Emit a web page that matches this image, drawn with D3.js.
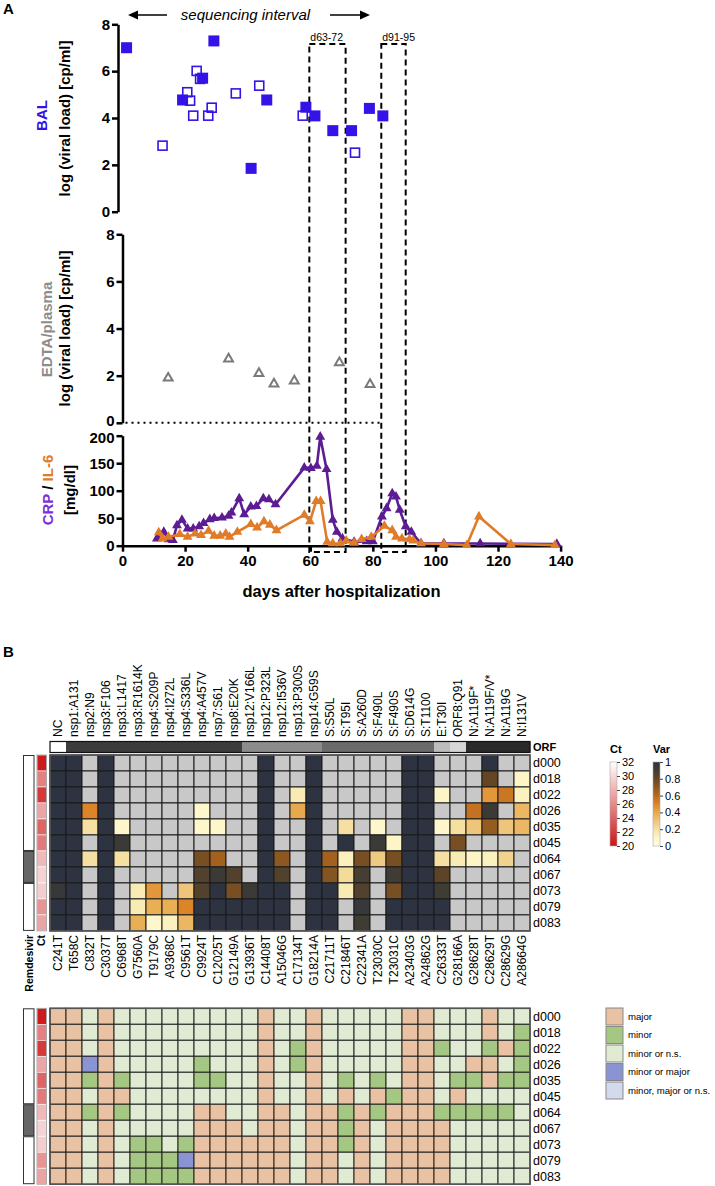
<!DOCTYPE html>
<html><head><meta charset="utf-8">
<script src="https://cdn.jsdelivr.net/npm/d3@7"></script>
<style>body{margin:0;background:#fff}svg{display:block;font-family:Arial,"Liberation Sans",sans-serif}</style>
</head><body>
<svg id="c" width="715" height="1186"></svg>
<script>
// ---------------- DATA (panel A) ----------------
const balFilledDay = [1.3,19.2,25.6,29.2,41.1,46.1,58.6,61.5,67.2,73.2,78.9,83.2];
const balFilledLog = [7.0,4.77,5.7,7.29,1.85,4.77,4.46,4.09,3.46,3.46,4.41,4.09];
const balOpenDay = [12.8,20.7,21.6,22.6,23.7,24.8,27.4,28.5,36.2,43.7,57.6,74.3];
const balOpenLog = [2.82,5.1,4.74,4.1,6.01,5.67,4.1,4.44,5.05,5.38,4.1,2.52];
const plasmaDay = [14.6,33.9,43.6,48.4,54.9,69.3,79.1];
const plasmaLog = [1.9,2.71,2.1,1.65,1.78,2.55,1.63];
const crpDay = [11,13.2,14.7,16.1,17.4,19,20.8,22.6,24.5,25.9,27.9,29.3,31.8,33.9,34.8,37.3,38.9,41,42.8,45,46.8,48.9,58.1,60.2,62.1,63.2,65.2,67.2,68.5,70.3,74,78,80,82.9,84.4,86.2,87.4,88.6,90.5,92.3,95.4,102.7,114.3,138.8];
const crpVal = [13,25,11.5,10,37,47,31,31,35,41,48,50,51,54,60,86,57,71,72,86,84,75,142,141,145,198,139,47,25,13,7,8,8,53,68,95,89,65,35,25,4,4,4,3];
const il6Day = [11.6,12.8,14.7,18.3,20.8,23.2,25.1,27.5,29.3,31.2,33,34.2,36.7,41,43,45.2,47.1,49.2,58.1,59.9,61.9,63.3,65.4,67.2,69.7,71.5,74,76.4,79.5,83.7,86.2,87.4,89.3,91.7,92.9,95.4,102.7,110,113.9,124.1,138.2];
const il6Val = [24,13,16,21,16,22,19,27,18,18,22,16,25,39,33,44,38,28,56,44,81,81,7,4,4,9,5,12,16,36,28,16,13,12,9,4,3,1,53,3,1];
const boxStart = [59.7,82.7];
const boxEnd = [71.3,90.5];
const boxLabel = ["d63-72","d91-95"];
const viralTicks = [0,2,4,6,8];
const crpTicks = [0,50,100,150,200];
const dayTicks = [0,20,40,60,80,100,120,140];

// ---------------- DATA (panel B) ----------------
const aaLabels = ["NC","nsp1:A131","nsp2:N9","nsp3:F106","nsp3:L1417","nsp3:R1614K","nsp4:S209P","nsp4:I272L","nsp4:S336L","nsp4:A457V","nsp7:S61","nsp8:E20K","nsp12:V166L","nsp12:P323L","nsp12:I536V","nsp13:P300S","nsp14:G59S","S:S50L","S:T95I","S:A260D","S:F490L","S:F490S","S:D614G","S:T1100","E:T30I","ORF8:Q91","N:A119F*","N:A119F/V*","N:A119G","N:I131V"];
const ntLabels = ["C241T","T658C","C832T","C3037T","C6968T","G7560A","T9179C","A9368C","C9561T","C9924T","C12025T","G12149A","G13936T","C14408T","A15046G","C17134T","G18214A","C21711T","C21846T","C22341A","T23030C","T23031C","A23403G","A24862G","C26333T","G28166A","G28628T","C28629T","C28629G","A28664G"];
const orfGroup = ["NC","ORF1a","ORF1a","ORF1a","ORF1a","ORF1a","ORF1a","ORF1a","ORF1a","ORF1a","ORF1a","ORF1a","ORF1b","ORF1b","ORF1b","ORF1b","ORF1b","S","S","S","S","S","S","S","E","ORF8","N","N","N","N"];
const samples = ["d000","d018","d022","d026","d035","d045","d064","d067","d073","d079","d083"];
const ctValues = [20.3,25.5,21.9,27.4,24.1,25.2,28.4,29.7,29.5,26.5,27.3];
const remdesivir = [0,0,0,0,0,0,1,1,0,0,0];
const _ = null;
const varFreq = [
 [1,1,_,1,_,_,_,_,_,_,_,_,_,1,_,_,1,_,_,_,_,_,1,1,_,_,_,1,_,_],
 [1,1,_,1,_,_,_,_,_,_,_,_,_,1,_,_,1,_,_,_,_,_,1,1,_,_,_,0.8,_,0.1],
 [1,1,_,1,_,_,_,_,_,_,_,_,_,1,_,0.15,1,_,_,_,_,_,1,1,0.1,_,_,0.45,0.55,0.12],
 [1,1,0.5,1,_,_,_,_,_,0.08,_,_,_,1,_,0.4,1,_,_,_,_,_,1,1,_,_,0.57,0.92,_,0.35],
 [1,1,0.2,1,0.08,_,_,_,_,0.08,0.08,_,_,1,_,_,1,_,0.2,_,0.08,_,1,1,0.08,0.2,0.3,0.68,0.3,0.35],
 [1,1,_,1,0.92,_,_,_,_,_,_,_,_,1,_,_,1,_,1,_,0.92,0.1,1,1,_,0.75,_,_,_,_],
 [1,1,0.2,1,0.2,_,_,_,_,0.75,0.65,_,_,1,0.7,_,1,0.65,0.12,0.75,0.28,0.75,1,1,0.2,0.15,0.1,0.12,0.25,_],
 [1,1,_,1,_,_,_,_,_,0.85,0.92,0.85,_,1,0.85,_,1,0.72,0.22,0.88,_,0.9,1,1,0.82,_,_,_,_,_],
 [0.95,1,_,1,_,0.15,0.45,_,0.3,0.85,1,0.75,0.92,1,1,_,1,1,0.15,0.85,_,0.75,1,1,0.9,_,_,_,_,_],
 [1,1,_,1,_,0.15,0.38,0.38,0.5,1,1,1,1,1,1,_,1,1,_,0.95,_,1,1,1,1,_,_,_,_,_],
 [1,1,_,1,_,0.38,0.08,0.12,0.35,1,1,1,1,1,1,_,1,1,_,0.9,_,1,1,1,1,_,_,_,_,_]
];
// M = major, m = minor, n = minor or n.s., b = minor or major
const callRows = [
 "MMnMnnnnnnnnnMnnMnnnnnMMnnnMnn",
 "MMnMnnnnnnnnnMnnMnnnnnMMnnnMnm",
 "MMnMnnnnnnnnnMnmMnnnnnMMmnnmMm",
 "MMbMnnnnnmnnnMnmMnnnnnMMnnMMnm",
 "MMmMmnnnnmmnnMnnMnmnmnMMnmmMmm",
 "MMnMMnnnnnnnnMnnMnMnMmMMnMnnnn",
 "MMmMmnnnnMMnnMMnMMmMmMMMmmmmmn",
 "MMnMnnnnnMMMnMMnMMmMnMMMMnnnnn",
 "MMnMnmmnmMMMMMMnMMmMnMMMMnnnnn",
 "MMnMnmmmbMMMMMMnMMnMnMMMMnnnnn",
 "MMnMnmmmmMMMMMMnMMnMnMMMMnnnnn"
];
const callCodes = ["M","m","n","b","l"];
const callNames = ["major","minor","minor or n.s.","minor or major","minor, major or n.s."];
const ctTicks = [20,22,24,26,28,30,32];
const varTicks = [0,0.2,0.4,0.6,0.8,1];

// ---------------- STYLES ----------------
const FONT = "Arial, 'Liberation Sans', sans-serif";
const BLUE = "#3313e8", GREY = "#7a7a7a", PURPLE = "#5b1c94", PURPLE_T = "#7d2fd6", ORANGE = "#e07b28";
const orfColor = {NC:"#ffffff",ORF1a:"#3c3c3c",ORF1b:"#8c8c8c",S:"#6a6a6a",E:"#bdbdbd",ORF8:"#d6d6d6",N:"#2a2a2a"};
const callColor = {M:"#e8c2a2",m:"#a4c882",n:"#e1ebd4",b:"#8a94d2",l:"#d3daee"};
const varColor = d3.scaleLinear().domain([0,0.1,0.2,0.3,0.4,0.5,0.6,0.7,0.8,0.9,1])
  .range(["#fffee0","#fdf5c6","#f5e0a2","#eec57a","#e8a94c","#dc8428","#b86a1e","#8c5820","#644624","#3f3c34","#2d3340"]);
const ctColor = d3.scaleLinear().domain([20,32]).range(["#cc1517","#ffffff"]);
const NA = "#c8c8c8";

const svg = d3.select("#c");
const defs = svg.append("defs");

function styleAxis(g, fs){
  g.attr("font-family",FONT).attr("font-size",fs).attr("font-weight","bold");
  g.select(".domain").attr("stroke-width",2.5).attr("stroke","#000");
  g.selectAll(".tick line").attr("stroke-width",2.5);
  g.selectAll(".tick text").attr("fill","#000");
}
function vtext(x,y,parts,fs,weight){
  const t = svg.append("text").attr("transform",`translate(${x},${y}) rotate(-90)`)
    .attr("text-anchor","middle").attr("dy","0.35em").attr("font-family",FONT)
    .attr("font-size",fs).attr("font-weight",weight||"bold");
  parts.forEach(p=>t.append("tspan").attr("fill",p[1]).text(p[0]));
  return t;
}

// ---------------- PANEL A ----------------
svg.append("text").attr("x",3).attr("y",14).attr("font-family",FONT).attr("font-size",15).attr("font-weight","bold").text("A");
svg.append("text").attr("x",245.5).attr("y",20).attr("text-anchor","middle").attr("font-family",FONT)
  .attr("font-style","italic").attr("font-size",15).text("sequencing interval");
svg.append("line").attr("x1",136).attr("x2",167).attr("y1",15).attr("y2",15).attr("stroke","#000").attr("stroke-width",1.5);
svg.append("path").attr("d","M128,15 L138,10.5 L138,19.5 Z").attr("fill","#000");
svg.append("line").attr("x1",330).attr("x2",362).attr("y1",15).attr("y2",15).attr("stroke","#000").attr("stroke-width",1.5);
svg.append("path").attr("d","M370,15 L360,10.5 L360,19.5 Z").attr("fill","#000");

const x = d3.scaleLinear().domain([0,140]).range([122.5,560.6]);
const yBal = d3.scaleLinear().domain([0,8]).range([211.7,24.3]);
const yPl = d3.scaleLinear().domain([0,8]).range([422.8,234.3]);
const yCrp = d3.scaleLinear().domain([0,200]).range([545.7,435.7]);

boxStart.forEach((s,i)=>{
  svg.append("rect").attr("x",x(s)).attr("y",44).attr("width",x(boxEnd[i])-x(s)).attr("height",552-44)
    .attr("fill","none").attr("stroke","#000").attr("stroke-width",2).attr("stroke-dasharray","6,4");
  svg.append("text").attr("x",x(s)+1).attr("y",41).attr("font-family",FONT).attr("font-size",10.5).text(boxLabel[i]);
});

// BAL
const gB = svg.append("g").attr("transform","translate(118,0)")
  .call(d3.axisLeft(yBal).tickValues(viralTicks).tickSize(6).tickSizeOuter(0).tickPadding(2));
styleAxis(gB,15);
vtext(41.5,115.5,[["BAL",BLUE]],15);
vtext(64.5,118.5,[["log (viral load) [cp/ml]","#000"]],15);
svg.append("g").selectAll("rect").data(balFilledDay).join("rect")
  .attr("x",(d)=>x(d)-5.5).attr("y",(d,i)=>yBal(balFilledLog[i])-5.5).attr("width",11).attr("height",11).attr("fill",BLUE);
svg.append("g").selectAll("rect").data(balOpenDay).join("rect")
  .attr("x",(d)=>x(d)-4.5).attr("y",(d,i)=>yBal(balOpenLog[i])-4.5).attr("width",9).attr("height",9)
  .attr("fill","none").attr("stroke",BLUE).attr("stroke-width",1.6);

// plasma
const gP = svg.append("g").attr("transform","translate(122.5,0)")
  .call(d3.axisLeft(yPl).tickValues(viralTicks).tickSize(6).tickSizeOuter(0).tickPadding(2));
styleAxis(gP,15);
gP.selectAll(".tick text").filter((d)=>d===0).attr("dy","0.2em");
vtext(46.7,329.5,[["EDTA/plasma","#8c8c8c"]],15);
vtext(65,328.5,[["log (viral load) [cp/ml]","#000"]],15);
svg.append("line").attr("x1",x(0)+3).attr("x2",x(boxStart[1])).attr("y1",yPl(0)).attr("y2",yPl(0))
  .attr("stroke","#000").attr("stroke-width",2).attr("stroke-dasharray","2,4");
svg.append("g").selectAll("path").data(plasmaDay).join("path")
  .attr("transform",(d,i)=>`translate(${x(d)},${yPl(plasmaLog[i])})`)
  .attr("d",d3.symbol(d3.symbolTriangle).size(34)).attr("fill","#fff").attr("stroke",GREY).attr("stroke-width",2);

// CRP / IL-6
const gC = svg.append("g").attr("transform","translate(122.5,0)")
  .call(d3.axisLeft(yCrp).tickValues(crpTicks).tickSize(6).tickSizeOuter(0).tickPadding(2));
styleAxis(gC,15);
gC.selectAll(".tick text").filter((d)=>d===200).attr("dy","0.45em");
const gX = svg.append("g").attr("transform",`translate(0,${yCrp(0)})`)
  .call(d3.axisBottom(x).tickValues(dayTicks).tickSize(6).tickSizeOuter(0).tickPadding(4));
styleAxis(gX,15);
svg.append("text").attr("x",341.5).attr("y",597).attr("text-anchor","middle").attr("font-family",FONT)
  .attr("font-size",16.5).attr("font-weight","bold").text("days  after hospitalization");
vtext(47.5,490,[["CRP",PURPLE_T],[" / ","#000"],["IL-6",ORANGE]],15);
vtext(70,490,[["[mg/dl]","#000"]],15);

function series(days, vals, color){
  const line = d3.line().x((d)=>x(d)).y((d,i)=>yCrp(vals[i]));
  svg.append("path").datum(days).attr("d",line).attr("fill","none").attr("stroke",color)
    .attr("stroke-width",2.6).attr("stroke-linejoin","round");
  svg.append("g").selectAll("path").data(days).join("path")
    .attr("transform",(d,i)=>`translate(${x(d)},${yCrp(vals[i])})`)
    .attr("d",d3.symbol(d3.symbolTriangle).size(42)).attr("fill",color);
}
series(crpDay,crpVal,PURPLE);
series(il6Day,il6Val,ORANGE);

// ---------------- PANEL B ----------------
svg.append("text").attr("x",3).attr("y",657).attr("font-family",FONT).attr("font-size",15).attr("font-weight","bold").text("B");

const xH = d3.scaleBand().domain(ntLabels).range([50,530]);
const yH1 = d3.scaleBand().domain(samples).range([755,930.9]);
const yH2 = d3.scaleBand().domain(samples).range([1008.3,1184.2]);
const bw = xH.bandwidth();

svg.append("g").selectAll("text").data(aaLabels).join("text")
  .attr("transform",(d,i)=>`translate(${xH(ntLabels[i])+bw/2},737) rotate(-90)`)
  .attr("dy","0.35em").attr("font-family",FONT).attr("font-size",12).text((d)=>d);

const gO = svg.append("g");
gO.selectAll("rect").data(orfGroup).join("rect")
  .attr("x",(d,i)=>xH(ntLabels[i])).attr("y",741.5).attr("width",bw+0.3).attr("height",11)
  .attr("fill",(d)=>orfColor[d]);
gO.append("rect").attr("x",50).attr("y",741.5).attr("width",480).attr("height",11)
  .attr("fill","none").attr("stroke","#111").attr("stroke-width",1.2);
svg.append("text").attr("x",533).attr("y",747).attr("dy","0.35em").attr("font-family",FONT)
  .attr("font-size",11).attr("font-weight","bold").text("ORF");

function annotations(yS){
  let start = 0;
  for(let i=1;i<=samples.length;i++){
    if(i===samples.length || remdesivir[i]!==remdesivir[start]){
      const y0 = yS(samples[start]), y1 = yS(samples[i-1])+yS.bandwidth();
      svg.append("rect").attr("x",23.5).attr("y",y0+0.5).attr("width",10.5).attr("height",y1-y0-1)
        .attr("fill",remdesivir[start]?"#666":"#fff").attr("stroke","#333").attr("stroke-width",1);
      start = i;
    }
  }
  svg.append("g").selectAll("rect").data(samples).join("rect")
    .attr("x",37).attr("y",(d)=>yS(d)).attr("width",9.5).attr("height",yS.bandwidth())
    .attr("fill",(d,i)=>ctColor(ctValues[i])).attr("stroke","#fff").attr("stroke-width",0.6);
  svg.append("rect").attr("x",37).attr("y",yS.range()[0]).attr("width",9.5).attr("height",yS.range()[1]-yS.range()[0])
    .attr("fill","none").attr("stroke","#999").attr("stroke-width",0.8);
  svg.append("g").selectAll("text").data(samples).join("text")
    .attr("x",533).attr("y",(d)=>yS(d)+yS.bandwidth()/2).attr("dy","0.35em")
    .attr("font-family",FONT).attr("font-size",12.5).text((d)=>d);
}

const g1 = svg.append("g");
samples.forEach((s,r)=>{
  g1.append("g").selectAll("rect").data(varFreq[r]).join("rect")
    .attr("x",(d,c)=>xH(ntLabels[c])).attr("y",yH1(s)).attr("width",bw).attr("height",yH1.bandwidth())
    .attr("fill",(d)=>d===null?NA:varColor(d)).attr("stroke","#1a1a1a").attr("stroke-width",1);
});
g1.append("rect").attr("x",50).attr("y",755).attr("width",480).attr("height",175.9)
  .attr("fill","none").attr("stroke","#555").attr("stroke-width",1.6);
annotations(yH1);

svg.append("g").selectAll("text").data(ntLabels).join("text")
  .attr("transform",(d)=>`translate(${xH(d)+bw/2},935) rotate(-90)`)
  .attr("dy","0.35em").attr("text-anchor","end").attr("font-family",FONT).attr("font-size",12).text((d)=>d);
svg.append("text").attr("transform","translate(29,935) rotate(-90)").attr("dy","0.35em").attr("text-anchor","end")
  .attr("font-family",FONT).attr("font-size",10.5).attr("font-weight","bold").text("Remdesivir");
svg.append("text").attr("transform","translate(41.5,935) rotate(-90)").attr("dy","0.35em").attr("text-anchor","end")
  .attr("font-family",FONT).attr("font-size",10.5).attr("font-weight","bold").text("Ct");

const g2 = svg.append("g");
samples.forEach((s,r)=>{
  g2.append("g").selectAll("rect").data(callRows[r].split("")).join("rect")
    .attr("x",(d,c)=>xH(ntLabels[c])).attr("y",yH2(s)).attr("width",bw).attr("height",yH2.bandwidth())
    .attr("fill",(d)=>callColor[d]).attr("stroke","#222").attr("stroke-width",1);
});
g2.append("rect").attr("x",50).attr("y",1008.3).attr("width",480).attr("height",175.9)
  .attr("fill","none").attr("stroke","#555").attr("stroke-width",1.6);
annotations(yH2);

function gradLegend(id, x0, title, scale, ticks, colorFn, fmt){
  const lg = defs.append("linearGradient").attr("id",id).attr("x1",0).attr("x2",0).attr("y1",1).attr("y2",0);
  const dom = scale.domain();
  d3.range(0,1.0001,0.1).forEach(t=>{
    lg.append("stop").attr("offset",t).attr("stop-color",colorFn(dom[0]+(dom[1]-dom[0])*t));
  });
  svg.append("text").attr("x",x0).attr("y",753).attr("font-family",FONT).attr("font-size",11).attr("font-weight","bold").text(title);
  svg.append("rect").attr("x",x0).attr("y",scale.range()[1]).attr("width",7).attr("height",scale.range()[0]-scale.range()[1])
    .attr("fill",`url(#${id})`).attr("stroke","#aaa").attr("stroke-width",0.6);
  const ga = svg.append("g").attr("transform",`translate(${x0+7},0)`)
    .call(d3.axisRight(scale).tickValues(ticks).tickSize(3).tickPadding(2).tickFormat(fmt));
  ga.select(".domain").remove();
  ga.attr("font-family",FONT).attr("font-size",11);
  ga.selectAll(".tick line").attr("stroke","#444");
}
gradLegend("ctg",610,"Ct",d3.scaleLinear().domain([20,32]).range([846,762]),ctTicks,(v)=>ctColor(v),(d)=>d);
gradLegend("varg",653,"Var",d3.scaleLinear().domain([0,1]).range([846,762]),varTicks,(v)=>varColor(v),(d)=>String(d));

const gl = svg.append("g");
callCodes.forEach((c,i)=>{
  gl.append("rect").attr("x",606).attr("y",1008+i*18.5).attr("width",17).attr("height",17)
    .attr("fill",callColor[c]).attr("stroke","#888").attr("stroke-width",1);
  gl.append("text").attr("x",628).attr("y",1008+i*18.5+8.5).attr("dy","0.35em")
    .attr("font-family",FONT).attr("font-size",9.6).text(callNames[i]);
});
</script>
</body></html>
